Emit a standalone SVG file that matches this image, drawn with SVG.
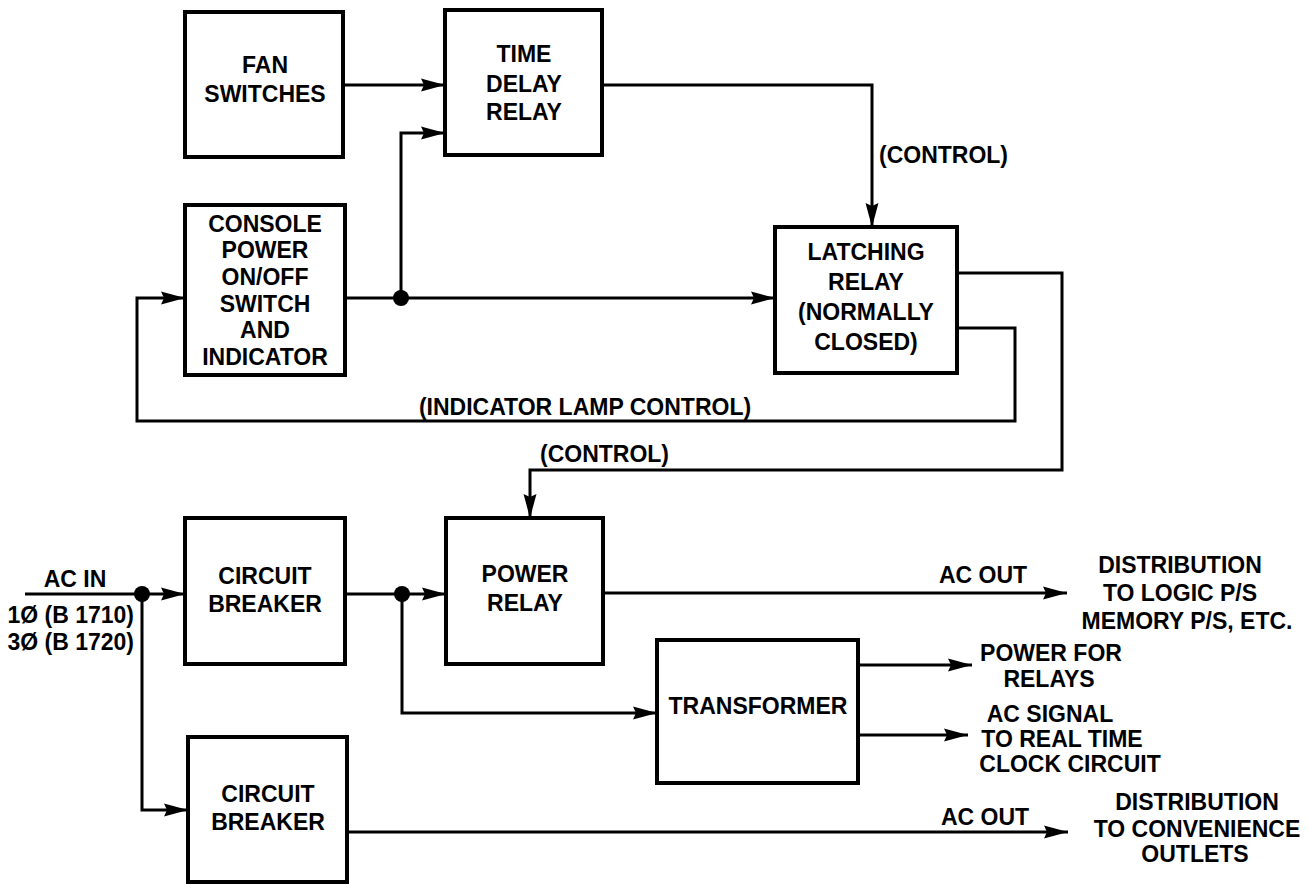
<svg xmlns="http://www.w3.org/2000/svg" width="1308" height="884" viewBox="0 0 1308 884">
<style>
rect.box{fill:#fff;stroke:#000;stroke-width:4}
text{font-family:"Liberation Sans",Arial,sans-serif;font-weight:bold;font-size:23px;fill:#000}
.c{text-anchor:middle}
.e{text-anchor:end}
#connectors path{fill:none;stroke:#000;stroke-width:3;stroke-linejoin:miter}
.dot{fill:#000}
</style>
<defs>
<marker id="arr" viewBox="0 0 24 14" refX="24" refY="7" markerWidth="24" markerHeight="14" markerUnits="userSpaceOnUse" orient="auto">
<path d="M0,0.5 L24,7 L0,13.5 L3,7 Z" fill="#000"/>
</marker>
</defs>
<rect width="1308" height="884" fill="#fff"/>
<g id="connectors">
<path d="M343,85 H445" marker-end="url(#arr)"/>
<path d="M401,298 V133 H445" marker-end="url(#arr)"/>
<path d="M345,298 H775" marker-end="url(#arr)"/>
<path d="M602,85 H872 V227" marker-end="url(#arr)"/>
<path d="M957,328 H1015 V421 H137 V298 H185" marker-end="url(#arr)"/>
<path d="M957,273 H1062 V470 H530 V518" marker-end="url(#arr)"/>
<path d="M25,594 H185" marker-end="url(#arr)"/>
<path d="M142,594 V810 H188" marker-end="url(#arr)"/>
<path d="M345,594 H446" marker-end="url(#arr)"/>
<path d="M402,594 V713 H657" marker-end="url(#arr)"/>
<path d="M603,593 H1067" marker-end="url(#arr)"/>
<path d="M858,665 H972" marker-end="url(#arr)"/>
<path d="M858,735 H968" marker-end="url(#arr)"/>
<path d="M347,832 H1068" marker-end="url(#arr)"/>
<circle class="dot" cx="401" cy="298" r="8"/>
<circle class="dot" cx="142" cy="594" r="8"/>
<circle class="dot" cx="402" cy="594" r="8"/>
</g>
<g id="fan-switches">
<rect class="box" x="185" y="12" width="158" height="145"/>
<text class="c" x="265" y="73">FAN</text>
<text class="c" x="265" y="102">SWITCHES</text>
</g>
<g id="time-delay-relay">
<rect class="box" x="445" y="10" width="157" height="145"/>
<text class="c" x="524" y="62">TIME</text>
<text class="c" x="524" y="92">DELAY</text>
<text class="c" x="524" y="120">RELAY</text>
</g>
<g id="console-power">
<rect class="box" x="185" y="205" width="160" height="170"/>
<text class="c" x="265" y="232">CONSOLE</text>
<text class="c" x="265" y="258">POWER</text>
<text class="c" x="265" y="285">ON/OFF</text>
<text class="c" x="265" y="312">SWITCH</text>
<text class="c" x="265" y="338">AND</text>
<text class="c" x="265" y="365">INDICATOR</text>
</g>
<g id="latching-relay">
<rect class="box" x="775" y="227" width="182" height="146"/>
<text class="c" x="866" y="260">LATCHING</text>
<text class="c" x="866" y="290">RELAY</text>
<text class="c" x="866" y="320">(NORMALLY</text>
<text class="c" x="866" y="350">CLOSED)</text>
</g>
<g id="circuit-breaker-1">
<rect class="box" x="185" y="518" width="160" height="146"/>
<text class="c" x="265" y="584">CIRCUIT</text>
<text class="c" x="265" y="612">BREAKER</text>
</g>
<g id="power-relay">
<rect class="box" x="446" y="518" width="157" height="146"/>
<text class="c" x="525" y="582">POWER</text>
<text class="c" x="525" y="611">RELAY</text>
</g>
<g id="transformer">
<rect class="box" x="657" y="640" width="201" height="143"/>
<text class="c" x="758" y="714">TRANSFORMER</text>
</g>
<g id="circuit-breaker-2">
<rect class="box" x="188" y="737" width="159" height="145"/>
<text class="c" x="268" y="802">CIRCUIT</text>
<text class="c" x="268" y="830">BREAKER</text>
</g>
<g id="labels">
<text x="879" y="163">(CONTROL)</text>
<text class="c" x="585" y="415">(INDICATOR LAMP CONTROL)</text>
<text x="540" y="462">(CONTROL)</text>
<text class="c" x="75" y="587">AC IN</text>
<text class="e" x="134" y="623">1Ø (B 1710)</text>
<text class="e" x="134" y="650">3Ø (B 1720)</text>
<text class="c" x="983" y="583">AC OUT</text>
<text class="c" x="1180" y="573">DISTRIBUTION</text>
<text class="c" x="1180" y="601">TO LOGIC P/S</text>
<text class="c" x="1187" y="629">MEMORY P/S, ETC.</text>
<text class="c" x="1051" y="661">POWER FOR</text>
<text class="c" x="1049" y="687">RELAYS</text>
<text class="c" x="1050" y="722">AC SIGNAL</text>
<text class="c" x="1062" y="747">TO REAL TIME</text>
<text class="c" x="1070" y="772">CLOCK CIRCUIT</text>
<text class="c" x="985" y="825">AC OUT</text>
<text class="c" x="1197" y="810">DISTRIBUTION</text>
<text class="c" x="1197" y="837">TO CONVENIENCE</text>
<text class="c" x="1195" y="862">OUTLETS</text>
</g>
</svg>
